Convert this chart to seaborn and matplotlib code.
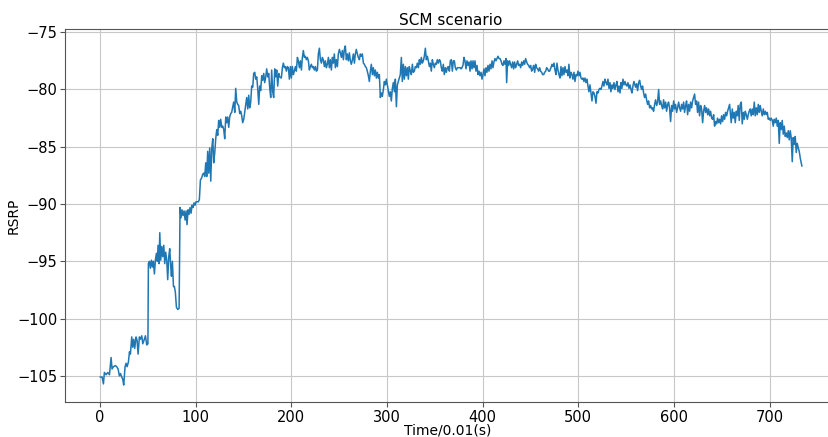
import matplotlib
matplotlib.use("Agg")
import matplotlib.pyplot as plt
import seaborn as sns
import pandas as pd

# ---- data (time in 0.01 s, RSRP) ----
time_a = [0, 2.1, 3.5, 4.5, 6.3, 8.0, 9.8, 11.5, 12.5, 13.9, 16.0, 17.4, 18.8, 20.2, 21.3, 22.6, 23.7, 24.7,
          26.1, 27.2, 28.2, 29.6, 30.7, 31.7, 33.1, 34.1, 35.2, 36.2, 37.6, 38.7, 39.7, 41.1, 42.2, 43.6, 44.6,
          46.3, 47.4, 48.8, 50.0, 50.5, 51.6, 52.6, 53.7, 54.7, 55.7, 56.8, 57.8, 58.9, 59.9, 60.6, 61.7, 62.4,
          63.4, 64.5, 65.5, 66.6, 67.6, 68.6, 69.7, 70.7, 71.8, 72.8, 73.9, 74.6, 75.6, 76.7, 77.7, 78.7, 79.8,
          81.2, 82.6, 83.6, 84.6, 85.6, 86.7, 87.8]
rsrp_a = [-105.1, -105.1, -105.7, -104.7, -104.9, -104.7, -104.9, -103.4, -104.4, -104.2, -104.1, -104.2,
          -104.4, -105.0, -104.8, -105.1, -105.3, -105.8, -104.2, -103.9, -104.2, -103.8, -102.9, -103.1,
          -101.6, -102.5, -101.8, -102.6, -101.6, -101.9, -103.1, -101.6, -101.8, -101.5, -102.2, -101.8,
          -101.5, -102.3, -102.2, -95.2, -95.0, -95.6, -94.9, -95.5, -95.0, -96.1, -94.9, -94.3, -95.0, -93.6,
          -95.2, -92.5, -94.9, -93.7, -94.6, -93.6, -95.2, -94.2, -94.9, -96.6, -94.6, -93.9, -95.5, -96.3,
          -95.0, -97.2, -97.2, -97.7, -99.0, -99.2, -99.1, -90.3, -91.2, -90.5, -91.0, -90.6]

time_b = [88.9, 89.9, 90.9, 92.0, 93.0, 94.1, 95.1, 96.2, 97.2, 98.3,
          99.3, 100.3, 101.4, 102.8, 103.8, 104.9, 106.3, 107.3, 108.4, 109.4,
          110.5, 111.5, 112.5, 113.6, 114.6, 115.7, 116.7, 117.8, 118.8, 119.9,
          120.9, 122.0, 123.0, 124.0, 125.1, 126.1, 127.2, 128.2, 129.3, 130.3,
          131.4, 132.4, 133.4, 134.5, 135.5, 136.6, 137.6, 138.7, 139.7, 140.8,
          141.8, 142.9, 143.9, 144.9, 146.0, 147.0, 148.1, 149.1, 150.2, 151.2,
          152.3, 153.3, 154.4, 155.4, 156.4, 157.5, 158.5, 159.6, 160.6, 161.7,
          162.7, 163.8, 164.8, 165.9, 166.9, 167.9, 169.0, 170.0, 171.1, 172.1,
          173.2, 174.2, 175.3, 176.3, 177.4, 178.4, 179.4, 180.5, 181.5, 182.6,
          183.6, 184.7, 185.7, 186.8, 187.8]
rsrp_b = [-91.4, -90.6, -91.8, -90.5, -90.9, -90.3, -90.8, -90.1, -90.3, -89.9,
          -90.1, -89.8, -89.8, -89.8, -89.6, -87.9, -87.7, -87.4, -87.3, -87.6,
          -86.4, -87.6, -85.4, -87.3, -85.1, -88.0, -85.2, -84.3, -86.4, -85.5,
          -84.3, -83.5, -84.0, -82.7, -83.3, -82.6, -83.3, -83.2, -83.5, -84.3,
          -82.4, -82.9, -82.4, -83.3, -82.4, -82.1, -82.0, -81.5, -81.1, -82.0,
          -79.9, -81.1, -81.3, -81.4, -82.1, -81.9, -82.3, -82.9, -82.6, -82.0,
          -81.3, -80.7, -81.7, -80.5, -81.6, -81.1, -79.7, -79.8, -78.6, -78.5,
          -79.1, -78.9, -79.9, -81.3, -79.7, -80.1, -78.8, -79.2, -78.6, -79.4,
          -78.9, -78.2, -78.9, -78.6, -79.9, -80.7, -78.3, -80.2, -80.7, -78.2,
          -78.9, -78.3, -79.7, -78.6, -78.9]

time_c = [189.5, 190.6, 191.6, 192.7, 193.7, 194.8, 195.8, 196.9, 197.9, 199.0,
          200.0, 201.0, 202.1, 203.1, 204.2, 205.2, 206.3, 207.3, 208.4, 209.4,
          210.5, 211.5, 212.5, 213.6, 214.6, 215.7, 216.7, 217.8, 218.8, 219.9,
          220.9, 222.0, 223.0, 224.0, 225.1, 226.1, 227.2, 228.2, 229.3, 230.3,
          231.4, 232.4, 233.4, 234.5, 235.5, 236.6, 237.6, 238.7, 239.7, 240.8,
          241.8, 242.9, 243.9, 244.9, 246.0, 247.0, 248.1, 249.1, 250.2, 251.2,
          252.3, 253.3, 254.4, 255.4, 256.4, 257.5, 258.5, 259.6, 260.6, 261.7,
          262.7, 263.8, 264.8, 265.9, 266.9, 267.9, 269.0, 270.0, 271.1, 272.1,
          273.2, 274.2, 275.3, 276.3, 277.4, 278.4, 279.4, 280.5, 281.5, 282.6]
rsrp_c = [-79.0, -78.1, -77.7, -78.1, -78.0, -78.4, -78.0, -78.1, -79.1, -78.0,
          -79.0, -78.0, -78.7, -78.4, -78.0, -78.4, -77.2, -77.5, -78.1, -77.5,
          -78.3, -77.2, -76.6, -77.2, -77.1, -77.4, -77.2, -77.5, -78.3, -78.0,
          -77.8, -78.1, -78.0, -78.3, -78.0, -78.4, -78.3, -76.9, -76.4, -77.4,
          -77.7, -77.2, -77.4, -78.0, -77.5, -78.1, -77.8, -77.2, -78.1, -77.4,
          -78.3, -77.2, -77.7, -76.9, -78.1, -77.4, -78.0, -76.9, -76.5, -76.8,
          -77.2, -76.6, -77.4, -76.5, -76.2, -77.4, -76.9, -77.5, -76.8, -77.5,
          -77.8, -77.4, -76.9, -77.7, -76.9, -76.5, -76.9, -77.2, -77.4, -76.9,
          -77.1, -76.9, -77.7, -77.8, -78.0, -78.1, -78.4, -78.8, -79.3, -78.4]

time_d = [283.6, 284.7, 285.7, 286.8, 287.8, 288.9, 289.9, 290.9, 292.0, 293.0,
          294.1, 295.1, 296.2, 297.2, 298.3, 299.3, 300.3, 301.4, 302.4, 303.5,
          304.5, 305.6, 306.6, 307.7, 308.7, 309.8, 310.8, 311.8, 312.9, 313.9,
          315.0, 316.0, 317.1, 318.1, 319.2, 320.2, 321.3, 322.3, 323.3, 324.4,
          325.4, 326.5, 327.5, 328.6, 329.6, 330.7, 331.7, 332.8, 333.8, 334.8,
          335.9, 336.9, 338.0, 339.0, 340.1, 341.1, 342.2, 343.2, 344.3, 345.3,
          346.3, 347.4, 348.4, 349.5, 350.5, 351.6, 352.6, 353.7, 354.7, 355.7,
          356.8, 357.8, 358.9, 359.9, 361.0, 362.0, 363.1, 364.1, 365.2, 366.2,
          367.2, 368.3, 369.3, 370.4, 371.4, 372.5, 373.5, 374.6, 375.6, 376.7]
rsrp_d = [-77.8, -78.7, -78.1, -78.8, -78.3, -79.0, -78.5, -79.0, -78.7, -80.7,
          -80.3, -80.6, -80.0, -79.3, -79.6, -79.1, -79.6, -80.2, -80.6, -80.2,
          -81.0, -79.9, -79.4, -80.2, -79.1, -81.5, -79.6, -79.3, -79.0, -78.7,
          -77.2, -79.3, -77.8, -79.1, -78.0, -78.8, -78.1, -79.1, -78.0, -78.4,
          -78.7, -77.8, -78.5, -78.4, -78.0, -78.1, -77.7, -78.1, -77.4, -77.8,
          -77.2, -77.7, -77.5, -77.1, -76.4, -77.4, -77.1, -77.5, -78.0, -77.7,
          -78.4, -77.4, -77.8, -78.1, -77.7, -77.8, -77.4, -77.7, -77.4, -77.5,
          -78.1, -78.4, -77.8, -78.7, -78.1, -78.5, -78.1, -78.0, -78.4, -77.5,
          -77.4, -78.4, -77.5, -77.5, -78.1, -78.3, -78.1, -78.1, -78.1, -78.1]

time_e = [377.4, 378.4, 379.4, 380.5, 381.5, 382.6, 383.6, 384.7, 385.7, 386.8,
          387.8, 388.9, 389.9, 390.9, 392.0, 393.0, 394.1, 395.1, 396.2, 397.2,
          398.3, 399.3, 400.3, 401.4, 402.4, 403.5, 404.5, 405.6, 406.6, 407.7,
          408.7, 409.8, 410.8, 411.8, 412.9, 413.9, 415.0, 416.0, 417.1, 418.1,
          419.2, 420.2, 421.3, 422.3, 423.3, 424.4, 425.1, 426.1, 427.2, 428.2,
          429.3, 430.3, 431.4, 432.4, 433.4, 434.5, 435.5, 436.6, 437.6, 438.7,
          439.7, 440.8, 441.8, 442.9, 443.9, 444.9, 446.0, 447.0, 448.1, 449.1,
          450.2, 451.2, 452.3, 453.3, 454.4, 455.4, 456.4, 457.5, 458.5, 459.6,
          460.6, 461.7, 462.7, 463.8, 464.8, 465.9, 466.9, 467.9, 469.0, 470.0]
rsrp_e = [-78.2, -78.1, -77.9, -77.2, -77.5, -78.2, -77.5, -77.9, -77.6, -78.4,
          -77.5, -78.2, -77.5, -78.1, -77.5, -78.4, -77.9, -78.7, -78.4, -78.8,
          -78.5, -79.1, -78.7, -78.2, -78.8, -78.1, -78.5, -77.9, -78.4, -77.8,
          -78.2, -77.5, -78.1, -77.6, -77.3, -77.5, -77.3, -77.1, -77.3, -77.3,
          -77.5, -77.8, -77.9, -77.5, -77.8, -77.3, -79.4, -77.5, -77.9, -77.5,
          -77.8, -78.1, -77.6, -78.2, -77.6, -78.1, -77.8, -77.5, -77.9, -77.8,
          -78.1, -77.6, -77.9, -77.5, -77.8, -77.3, -77.6, -77.8, -77.9, -78.1,
          -77.9, -78.4, -78.2, -77.9, -78.5, -77.8, -78.1, -78.2, -78.4, -78.1,
          -78.4, -78.5, -78.7, -78.7, -78.5, -78.4, -78.1, -78.2, -78.4, -78.4]

time_f = [471.4, 472.5, 473.5, 474.6, 475.6, 476.7, 477.7, 478.7, 479.8, 480.8,
          481.9, 482.9, 484.0, 485.0, 486.1, 487.1, 488.2, 489.2, 490.2, 491.3,
          492.3, 493.4, 494.4, 495.5, 496.5, 497.6, 498.6, 499.7, 500.7, 501.7,
          502.8, 503.8, 504.9, 505.9, 507.0, 508.0, 509.1, 510.1, 511.1, 512.2,
          513.2, 514.3, 515.3, 516.4, 517.4, 518.5, 519.5, 520.6, 521.6, 522.6,
          523.7, 524.7, 525.8, 526.8, 527.9, 528.9, 530.0, 531.0, 532.1, 533.1,
          534.1, 535.2, 536.2, 537.3, 538.3, 539.4, 540.4, 541.5, 542.5, 543.6,
          544.6, 545.6, 546.7, 547.7, 548.8, 549.8, 550.9, 551.9, 553.0, 554.0,
          555.1, 556.1, 557.1, 558.2]
rsrp_f = [-78.1, -77.8, -78.0, -77.7, -78.3, -78.7, -77.7, -78.3, -78.7, -79.0,
          -78.0, -78.8, -78.1, -78.7, -78.0, -78.5, -78.3, -78.8, -77.8, -79.0,
          -78.5, -78.7, -79.1, -78.5, -79.3, -78.7, -78.8, -78.4, -78.8, -78.5,
          -79.0, -79.1, -79.0, -79.3, -79.0, -79.4, -79.1, -79.7, -80.2, -79.6,
          -80.3, -81.0, -80.2, -80.3, -80.6, -81.2, -80.2, -80.3, -80.0, -79.9,
          -80.0, -79.7, -79.3, -79.7, -79.1, -79.4, -79.6, -79.1, -79.9, -79.4,
          -80.2, -79.6, -79.9, -79.4, -80.0, -79.6, -79.3, -80.2, -79.7, -80.3,
          -79.4, -79.9, -79.1, -79.6, -79.3, -79.6, -79.7, -79.4, -79.9, -79.6,
          -80.0, -80.3, -79.7, -79.3]

time_g = [559.9, 561.0, 562.0, 563.1, 564.1, 565.2, 566.2, 567.2, 568.3, 569.3,
          570.4, 571.4, 572.5, 573.5, 574.6, 575.6, 576.7, 577.7, 578.7, 579.8,
          580.8, 581.9, 582.9, 584.0, 585.0, 586.1, 587.1, 588.2, 589.2, 590.2,
          591.3, 592.3, 593.4, 594.4, 595.5, 596.5, 597.6, 598.6, 599.7, 600.7,
          601.7, 602.8, 603.8, 604.9, 605.9, 607.0, 608.0, 609.1, 610.1, 611.1,
          612.2, 613.2, 614.3, 615.3, 616.4, 617.4, 618.5, 619.5, 620.6, 621.6,
          622.6, 623.7, 624.7, 625.8, 626.8, 627.9, 628.9, 630.0, 631.0, 632.1,
          633.1, 634.1, 635.2, 636.2, 637.3, 638.3, 639.4, 640.4, 641.5, 642.5,
          643.6, 644.6, 645.6, 646.7, 647.7, 648.8, 649.8, 650.9, 651.9, 653.0,
          654.0, 655.1, 656.1, 657.1, 658.2]
rsrp_g = [-79.8, -79.5, -80.1, -79.4, -79.2, -79.7, -80.0, -79.7, -80.3, -80.7,
          -80.4, -80.9, -81.3, -81.0, -81.6, -81.4, -81.7, -81.6, -81.9, -81.3,
          -80.9, -81.4, -81.1, -80.0, -81.3, -81.0, -81.4, -81.7, -80.9, -81.6,
          -81.1, -81.9, -81.3, -81.1, -81.7, -82.8, -81.4, -81.9, -81.0, -81.7,
          -81.3, -82.0, -81.6, -81.1, -81.6, -81.9, -81.3, -81.7, -81.1, -82.0,
          -81.4, -81.0, -82.2, -81.3, -81.9, -81.1, -81.6, -81.0, -80.7, -80.4,
          -81.3, -81.0, -82.0, -81.1, -82.3, -81.4, -81.7, -82.9, -81.9, -81.4,
          -82.0, -81.6, -82.2, -81.7, -82.3, -81.9, -82.5, -82.6, -82.2, -83.2,
          -82.8, -83.0, -82.5, -82.9, -82.6, -83.0, -82.3, -82.8, -82.2, -82.6,
          -82.0, -82.3, -81.9, -81.6, -81.3]

time_h = [659.9, 661.0, 662.0, 663.1, 664.1, 665.2, 666.2, 667.2, 668.3, 669.3,
          670.4, 671.4, 672.5, 673.5, 674.6, 675.6, 676.7, 677.7, 678.7, 679.8,
          680.8, 681.9, 682.9, 684.0, 685.0, 686.1, 687.1, 688.2, 689.2, 690.2,
          691.3, 692.3, 693.4, 694.4, 695.5, 696.5, 697.6, 698.6, 699.7, 700.7,
          701.7, 702.8, 703.8, 704.9, 705.9, 707.0, 708.0, 709.1, 710.1, 711.1,
          712.2, 713.2, 714.3, 715.3, 716.4, 717.4, 718.5, 719.5, 720.6, 721.6,
          722.6, 723.7, 724.7, 725.8, 726.8, 727.9, 728.9, 730.0, 731.0, 732.1,
          733.1, 733.8]
rsrp_h = [-82.9, -81.7, -82.5, -82.0, -82.9, -81.9, -82.3, -81.4, -82.7, -81.3,
          -81.1, -83.0, -82.0, -82.6, -81.9, -82.2, -82.6, -82.2, -81.9, -81.7,
          -82.3, -81.7, -82.2, -81.1, -82.3, -81.6, -82.2, -81.3, -82.0, -81.4,
          -81.9, -82.3, -81.7, -82.2, -81.9, -82.2, -82.0, -82.6, -82.5, -82.7,
          -82.5, -82.7, -83.2, -82.6, -82.9, -82.5, -83.2, -82.7, -84.7, -82.9,
          -83.5, -82.7, -83.9, -83.2, -84.1, -83.8, -84.2, -83.6, -84.4, -83.6,
          -84.2, -86.3, -84.2, -84.8, -84.1, -85.5, -84.7, -85.1, -85.4, -86.0,
          -86.4, -86.7]

title = "SCM scenario"
x_label = "Time/0.01(s)"
y_label = "RSRP"

segments = [(time_a, rsrp_a), (time_b, rsrp_b), (time_c, rsrp_c), (time_d, rsrp_d),
            (time_e, rsrp_e), (time_f, rsrp_f), (time_g, rsrp_g), (time_h, rsrp_h)]
times, values = [], []
for t, v in segments:
    assert len(t) == len(v), (len(t), len(v), t[0])
    times += t
    values += v
df = pd.DataFrame({"time": times, "rsrp": values})

sns.set_theme(style="white")
plt.rcParams["font.family"] = ["DejaVu Sans"]
plt.rcParams["text.color"] = "black"
plt.rcParams["axes.labelcolor"] = "black"

fig = plt.figure(figsize=(8.29, 4.37), dpi=100)
ax = fig.add_axes([65 / 829, 35 / 437, 772 / 829, 373 / 437])

sns.lineplot(data=df, x="time", y="rsrp", ax=ax, color="#1f77b4", linewidth=1.1,
             estimator=None, sort=False)

ax.grid(True, color="#c8c8c8", linewidth=0.8)
ax.set_axisbelow(True)
for s in ax.spines.values():
    s.set_color("#555555")
    s.set_linewidth(0.8)
ax.tick_params(axis="both", which="major", labelsize=10.5, length=3.5, width=0.8,
               pad=2, color="#555555", bottom=True, left=True, labelcolor="black")
ax.set_xticks([0, 100, 200, 300, 400, 500, 600, 700])
ax.set_yticks([-105, -100, -95, -90, -85, -80, -75])
ax.set_xlabel(x_label, fontsize=10)
ax.set_ylabel(y_label, fontsize=10)
ax.xaxis.set_label_coords(0.5 - 3 / 772, -0.058)
ax.yaxis.set_label_coords(-0.057, 0.5)
ax.set_title(title, fontsize=11, pad=3)

fig.savefig("out.png", dpi=100)
